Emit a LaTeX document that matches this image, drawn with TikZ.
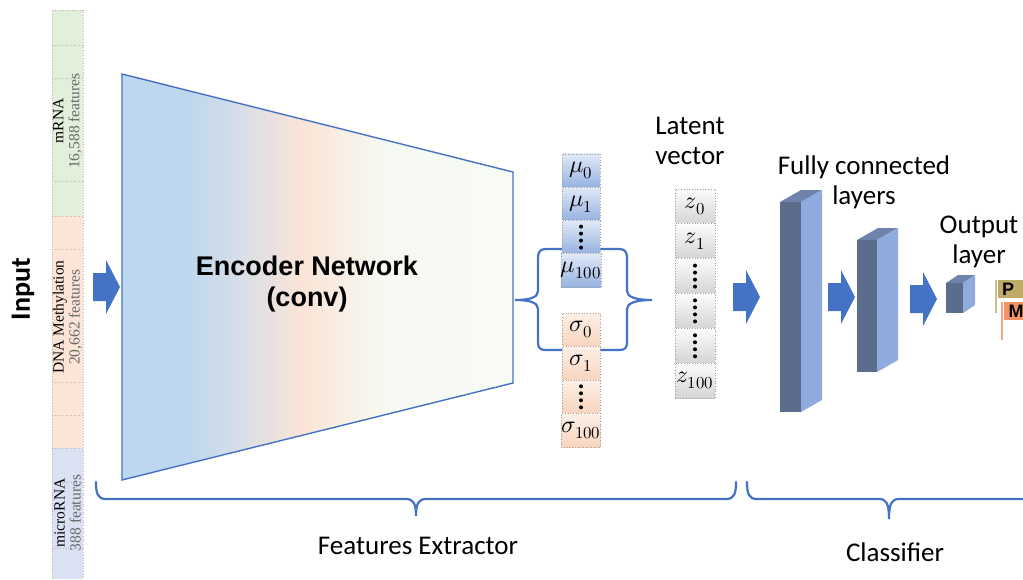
\documentclass[tikz,border=0pt]{standalone}
\usepackage{fontspec}
\usepackage{unicode-math}
\setmainfont{Liberation Serif}
\newfontfamily\carlito{Carlito}
\newfontfamily\arialfont{Liberation Sans}
\newfontfamily\timesfont{Liberation Serif}
\usetikzlibrary{calc}

% palette
\definecolor{encblue}{RGB}{189,215,238}
\definecolor{encgray}{RGB}{216,222,232}
\definecolor{encpeach}{RGB}{250,228,214}
\definecolor{encwhite}{RGB}{246,249,242}
\definecolor{encwhiteb}{RGB}{248,250,246}
\definecolor{linkblue}{RGB}{68,114,196}
\definecolor{inGreen}{RGB}{226,239,218}
\definecolor{inPeach}{RGB}{252,228,214}
\definecolor{inBlue}{RGB}{217,225,242}
\definecolor{featgray}{RGB}{105,105,105}
\definecolor{muTop}{RGB}{224,233,247}
\definecolor{muBot}{RGB}{150,178,224}
\definecolor{sgTop}{RGB}{253,240,231}
\definecolor{sgBot}{RGB}{248,212,190}
\definecolor{zTop}{RGB}{252,252,252}
\definecolor{zBot}{RGB}{212,212,212}
\definecolor{boxFront}{RGB}{91,108,140}
\definecolor{boxTop}{RGB}{110,130,170}
\definecolor{boxSide}{RGB}{143,170,220}
\definecolor{flagP}{RGB}{190,170,105}
\definecolor{flagPline}{RGB}{205,190,140}
\definecolor{flagM}{RGB}{244,145,105}
\definecolor{flagMline}{RGB}{245,165,135}

% 3D layer block: x0, y top, y bottom, front width, depth x, depth y
\newcommand\layerbox[6]{%
  \fill[boxTop] (#1,#2) -- (#1+#4,#2) -- (#1+#4+#5,#2-#6) -- (#1+#5,#2-#6) -- cycle;
  \fill[boxSide] (#1+#4,#2) -- (#1+#4+#5,#2-#6) -- (#1+#4+#5,#3-#6) -- (#1+#4,#3) -- cycle;
  \fill[boxFront] (#1,#2) rectangle (#1+#4,#3);
}

\tikzset{
  cellbase/.style={draw=gray!75, dotted, line width=0.7pt, minimum width=38, inner sep=0pt,
                   font=\fontsize{24}{26}\selectfont},
  mucell/.style={cellbase, top color=muTop, bottom color=muBot, minimum height=33.25},
  sgcell/.style={cellbase, top color=sgTop, bottom color=sgBot, minimum height=33.5},
  zcell/.style={cellbase, top color=zTop, bottom color=zBot, minimum width=40, minimum height=34.83},
  brc/.style={draw=linkblue, line width=2.2pt, line cap=round},
  lbl/.style={font=\carlito\fontsize{27}{30}\selectfont, align=center, inner sep=0pt},
  coltext/.style={font=\timesfont\fontsize{15.5}{16}\selectfont, align=center, inner sep=0pt, rotate=90},
  divider/.style={draw=gray!55, dotted, line width=0.7pt},
  blockarrow/.pic={\fill[linkblue] (0,-14) -- (13,-14) -- (13,-27) -- (27,0) -- (13,27) -- (13,14) -- (0,14) -- cycle;},
  flagtxt/.style={font=\arialfont\bfseries\fontsize{18}{18}\selectfont, inner sep=0pt}
}

\begin{document}
\begin{tikzpicture}[x=1pt,y=-1pt]
\useasboundingbox (0,0) rectangle (1023,579);
\fill[white] (0,0) rectangle (1023,579);

% ---------- input column ----------
\fill[inGreen] (52,10) rectangle (83,216);
\fill[inPeach] (52,216) rectangle (83,448);
\fill[inBlue] (52,448) rectangle (83,579);
\draw[divider] (52,579) -- (52,10) -- (83,10) -- (83,579);
\foreach \yy in {45,78,181,216,249,382,415,448,482,548}
  \draw[divider] (52,\yy) -- (83,\yy);
\node[coltext] (mrnaT) at (67.5,121) {mRNA\\{\color{featgray}16,588 features}};
\node[coltext] (dnaT) at (67.5,317) {DNA Methylation\\{\color{featgray}20,662 features}};
\node[coltext] (mirT) at (67.5,513) {microRNA\\{\color{featgray}388 features}};

\node[rotate=90, font=\carlito\bfseries\fontsize{28}{30}\selectfont, inner sep=0pt] (inputT) at (23,289) {Input};

\pic (inArrow) at (93,287) {blockarrow};

% ---------- encoder ----------
\coordinate (etl) at (122,74);
\coordinate (etr) at (513,172);
\coordinate (ebr) at (513,383);
\coordinate (ebl) at (122,480);
\begin{scope}
  \clip (etl) -- (etr) -- (ebr) -- (ebl) -- cycle;
  \fill[encblue] (120,70) rectangle (188,485);
  \shade[left color=encblue, right color=encgray] (187,70) rectangle (241,485);
  \shade[left color=encgray, right color=encpeach] (240,70) rectangle (301,485);
  \shade[left color=encpeach, right color=encwhite] (300,70) rectangle (384,485);
  \shade[left color=encwhite, right color=encwhiteb] (383,70) rectangle (515,485);
\end{scope}
\draw[linkblue, line width=1.4pt, line join=miter] (etl) -- (etr) -- (ebr) -- (ebl) -- cycle;
\node[font=\arialfont\bfseries\fontsize{27}{31}\selectfont, align=center, inner sep=0pt] (encT) at (307,284) {Encoder Network\\(conv)};

% ---------- side braces ----------
\draw[brc] (562,249) -- (546,249) .. controls (540,249) and (538,252) .. (538,258) -- (538,291)
  .. controls (538,297) and (531,300) .. (515,300)
  .. controls (531,300) and (538,303) .. (538,309) -- (538,342)
  .. controls (538,348) and (540,350) .. (546,350) -- (562,350);
\draw[brc] (600,249) -- (619,249) .. controls (625,249) and (627,252) .. (627,258) -- (627,291)
  .. controls (627,297) and (636,300) .. (652,300)
  .. controls (636,300) and (627,303) .. (627,309) -- (627,342)
  .. controls (627,348) and (625,350) .. (619,350) -- (600,350);

% ---------- mean / sigma cells ----------
\node[mucell] (mu0) at (581,170.6) {$\mu_0$};
\node[mucell] (mu1) at (581,203.9) {$\mu_1$};
\node[mucell] (mud) at (581,237.1) {};
\node[mucell] (mu100) at (581,270.4) {$\mu_{100}$};
\node[sgcell] (sg0) at (581,329.8) {$\sigma_0$};
\node[sgcell] (sg1) at (581,363.3) {$\sigma_1$};
\node[sgcell] (sgd) at (581,396.8) {};
\node[sgcell] (sg100) at (581,430.3) {$\sigma_{100}$};

% ---------- latent vector ----------
\node[zcell] (z0) at (695,206.4) {$z_0$};
\node[zcell] (z1) at (695,241.2) {$z_1$};
\node[zcell] (zd1) at (695,276.1) {};
\node[zcell] (zd2) at (695,310.9) {};
\node[zcell] (zd3) at (695,345.8) {};
\node[zcell] (z100) at (695,380.6) {$z_{100}$};

\foreach \c in {mud,sgd,zd1,zd2,zd3}
  \foreach \dy in {-10.5,-3.5,3.5,10.5}
    \fill ($(\c.center)+(0,\dy)$) circle (2);

\node[lbl] (latentT) at (690,141) {Latent\\vector};

% ---------- classifier ----------
\pic (arr1) at (733,297) {blockarrow};
\layerbox{780}{202}{412}{21}{21}{12}
\pic (arr2) at (828,297) {blockarrow};
\layerbox{857}{240}{372}{20}{21}{12}
\pic (arr3) at (910,299) {blockarrow};
\layerbox{946}{283}{313}{17}{12}{8}

\node[lbl] (fcT) at (864,182) {Fully connected\\layers};
\node[lbl] (outT) at (979,242) {Output\\layer};

% class flags
\coordinate (pPole) at (996,280);
\coordinate (mPole) at (1002,302);
\draw[flagPline, line width=2pt] (pPole) -- ++(0,33);
\fill[flagP] (998,280) rectangle (1030,298);
\node[flagtxt] (pT) at (1008,289.5) {P};
\draw[flagMline, line width=2pt] (mPole) -- ++(0,38);
\fill[flagM] (1004,302) rectangle (1030,320);
\node[flagtxt] (mT) at (1016,311.5) {M};

% ---------- bottom braces ----------
\draw[brc] (96,482) .. controls (96,494) and (98,499) .. (106,499) -- (406,499)
  .. controls (413,499) and (416,503) .. (416,516)
  .. controls (416,503) and (419,499) .. (426,499) -- (726,499)
  .. controls (734,499) and (736,494) .. (736,482);
\draw[brc] (747,482) .. controls (747,494) and (749,499) .. (757,499) -- (879,499)
  .. controls (886,499) and (889,503) .. (889,519)
  .. controls (889,503) and (892,499) .. (899,499) -- (1030,499);

\node[lbl] (featT) at (418,546) {Features Extractor};
\node[lbl] (clsT) at (895,552) {Classifier};
\end{tikzpicture}
\end{document}
